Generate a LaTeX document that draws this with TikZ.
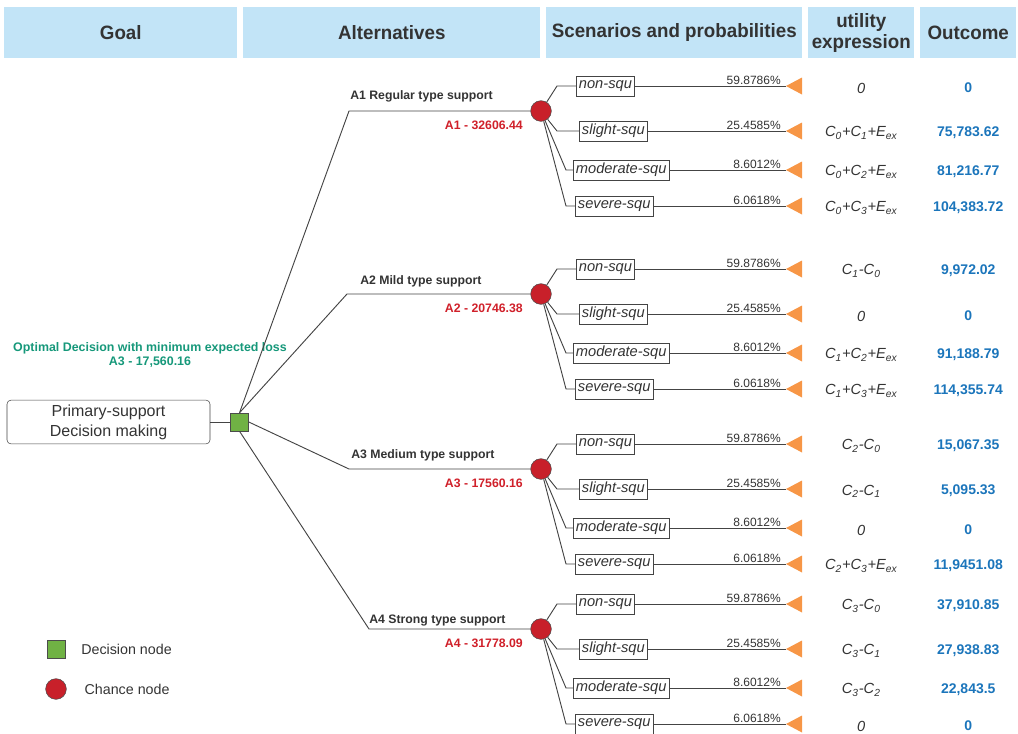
\documentclass[tikz,border=0pt]{standalone}
\usepackage{fontspec}
\setmainfont{Liberation Sans}
\newfontfamily\headfont[FakeStretch=0.97]{Liberation Sans}
\usetikzlibrary{positioning}
\definecolor{headblue}{HTML}{C2E4F7}
\definecolor{txtgray}{HTML}{333333}
\definecolor{linegray}{HTML}{444444}
\definecolor{decgreen}{HTML}{70B244}
\definecolor{chancered}{HTML}{C8202A}
\definecolor{labred}{HTML}{D0202A}
\definecolor{optgreen}{HTML}{16987A}
\definecolor{outblue}{HTML}{1B75BB}
\definecolor{triorange}{HTML}{F79646}

\begin{document}
\begin{tikzpicture}[x=0.75pt,y=-0.75pt]
\tikzstyle{every node}=[text=txtgray]
\tikzstyle{head}=[fill=headblue, anchor=north west, minimum height=38.25pt, inner sep=0pt, align=center, font=\headfont\bfseries\fontsize{14.5}{15.5}\selectfont]
\tikzstyle{conn}=[draw=linegray, line width=0.7pt]
\tikzstyle{goalbox}=[draw=linegray, rounded corners=3pt, minimum width=152.25pt, minimum height=31.5pt, align=center, font=\fontsize{12}{15}\selectfont]
\tikzstyle{decnode}=[draw=black!70, fill=decgreen, minimum size=13.5pt, inner sep=0pt]
\tikzstyle{chance}=[circle, draw=black!70, fill=chancered, minimum size=15.5pt, inner sep=0pt]
\tikzstyle{scen}=[draw=linegray, anchor=west, inner xsep=2pt, inner ysep=2.4pt, minimum height=15pt, font=\itshape\fontsize{11}{12}\selectfont]
\tikzstyle{prob}=[anchor=south east, inner sep=0pt, font=\fontsize{9}{10}\selectfont]
\tikzstyle{util}=[yshift=-1.5pt, font=\itshape\fontsize{11}{13}\selectfont]
\tikzstyle{outc}=[yshift=-1.5pt, text=outblue, font=\bfseries\fontsize{10.5}{12}\selectfont]
\tikzstyle{altlab}=[anchor=base west, inner sep=0pt, font=\bfseries\fontsize{9.2}{11}\selectfont]
\tikzstyle{vallab}=[anchor=base east, inner sep=0pt, text=labred, font=\bfseries\fontsize{9.2}{11}\selectfont]
\tikzstyle{legtxt}=[font=\fontsize{10.7}{12}\selectfont]

\useasboundingbox (0,0) rectangle (1018,733);

% column heads
\node[head, minimum width=174.75pt] (hgoal) at (4,7) {Goal};
\node[head, minimum width=222.75pt] (halt) at (243,7) {Alternatives};
\node[head, minimum width=192pt] (hscen) at (546,7) {Scenarios and probabilities};
\node[head, minimum width=79.5pt] (hutil) at (808,7) {utility\\expression};
\node[head, minimum width=72pt] (hout) at (920,7) {Outcome};

% goal and decision
\node[goalbox] (goal) at (108.5,422) {Primary-support\\Decision making};
\node[decnode, right=15pt of goal] (dec) {};
\draw[conn] (goal) -- (dec);
\node[text=optgreen, align=center, font=\bfseries\fontsize{9.3}{10.5}\selectfont] (opt) at (150,355) {Optimal Decision with minimum expected loss\\A3 - 17,560.16};

% alternatives, scenarios
\foreach \g/\cy/\kx/\lx/\ly/\alt/\val/\from in {1/111/349/350/99/Regular/32606.44/north, 2/294/347/360/284.5/Mild/20746.38/north, 3/469/349/351/458.5/Medium/17560.16/east, 4/629/369/369/623.5/Strong/31778.09/south}
{
  \node[chance] (c\g) at (541,\cy) {};
  \coordinate (k\g) at (\kx,\cy);
  \draw[conn] (dec.\from) -- (k\g) -- (c\g);
  \node[altlab] (a\g) at (\lx,\ly) {A\g\ \alt\ type support};
  \node[vallab] (v\g) at ([xshift=-13.5pt,yshift=-13.9pt]c\g.center) {A\g\ - \val};
  \foreach \k/\dy/\ex/\bx/\sc/\pr in {1/-25/557/576/non/59.8786, 2/20/557/579/slight/25.4585, 3/59/566/573/moderate/8.6012, 4/95/566/575/severe/6.0618}
  {
    \pgfmathsetmacro\yy{\cy+\dy}
    \node[scen] (s\g\k) at (\bx,\yy) {\sc-squ};
    \coordinate (t\g\k) at (786,\yy);
    \coordinate (r\g\k) at (0,\yy);
    \draw[conn] (c\g) -- (\ex,\yy) -- (s\g\k.west);
    \draw[conn] (s\g\k) -- (t\g\k);
    \node[prob] (p\g\k) at ([xshift=-3.75pt,yshift=1pt]t\g\k) {\pr\%};
    \fill[triorange] (t\g\k) -- ++(16,-8.5) -- ++(0,17) -- cycle;
  }
}

% utility expressions and outcomes
\foreach \g/\k/\ut/\out in {
  1/1/{0}/{0},
  1/2/{C\textsubscript{0}+C\textsubscript{1}+E\textsubscript{ex}}/{75,783.62},
  1/3/{C\textsubscript{0}+C\textsubscript{2}+E\textsubscript{ex}}/{81,216.77},
  1/4/{C\textsubscript{0}+C\textsubscript{3}+E\textsubscript{ex}}/{104,383.72},
  2/1/{C\textsubscript{1}-C\textsubscript{0}}/{9,972.02},
  2/2/{0}/{0},
  2/3/{C\textsubscript{1}+C\textsubscript{2}+E\textsubscript{ex}}/{91,188.79},
  2/4/{C\textsubscript{1}+C\textsubscript{3}+E\textsubscript{ex}}/{114,355.74},
  3/1/{C\textsubscript{2}-C\textsubscript{0}}/{15,067.35},
  3/2/{C\textsubscript{2}-C\textsubscript{1}}/{5,095.33},
  3/3/{0}/{0},
  3/4/{C\textsubscript{2}+C\textsubscript{3}+E\textsubscript{ex}}/{11,9451.08},
  4/1/{C\textsubscript{3}-C\textsubscript{0}}/{37,910.85},
  4/2/{C\textsubscript{3}-C\textsubscript{1}}/{27,938.83},
  4/3/{C\textsubscript{3}-C\textsubscript{2}}/{22,843.5},
  4/4/{0}/{0}}
{
  \node[util] (u\g\k) at (r\g\k -| hutil) {\ut};
  \node[outc] (o\g\k) at (r\g\k -| hout) {\out};
}

% legend
\node[decnode] (ldec) at (56,649) {};
\node[legtxt, right=8.5pt of ldec] (ldectxt) {Decision node};
\node[chance] (lch) at (56,689) {};
\node[legtxt, right=10pt of lch] (lchtxt) {Chance node};
\end{tikzpicture}
\end{document}
